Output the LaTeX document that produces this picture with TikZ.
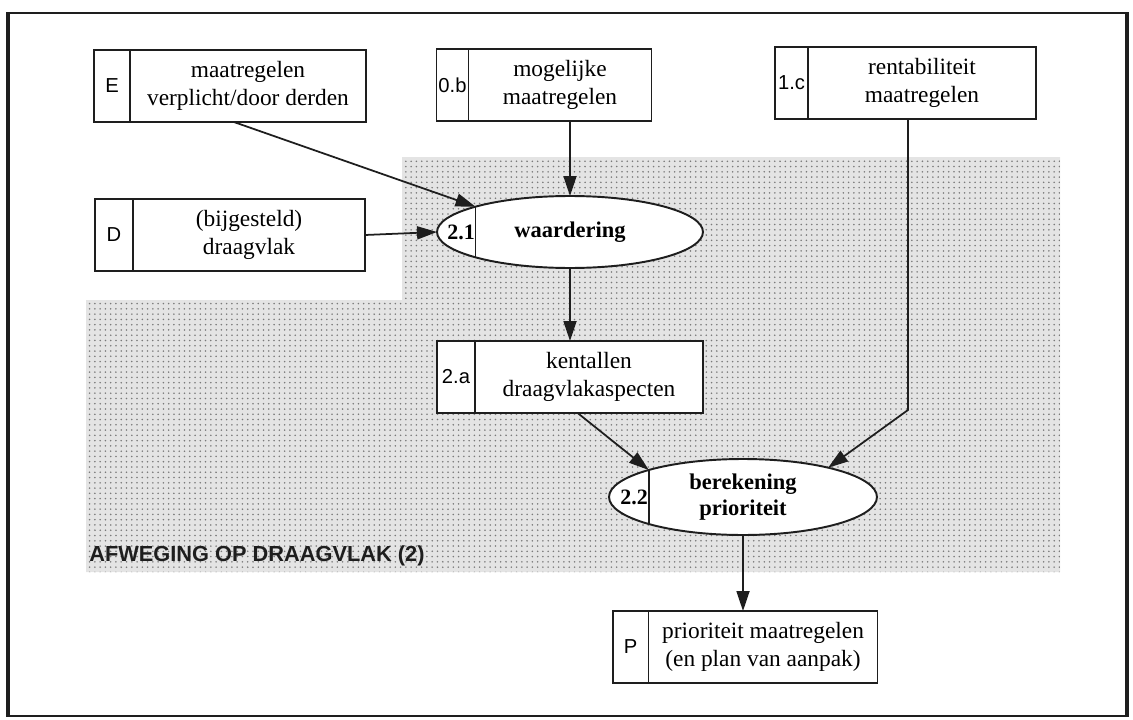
\documentclass[tikz,border=0pt]{standalone}
\usepackage{fontspec}
\setmainfont{Liberation Serif}
\setsansfont{Liberation Sans}
\usepackage{tikz}
\usetikzlibrary{arrows.meta,positioning,shapes.geometric,calc,patterns}
\definecolor{frameLine}{HTML}{1E1E1E}
\definecolor{shadeDot}{HTML}{7A7A7A}
\definecolor{shadeBack}{HTML}{E4E4E4}
\tikzset{
  storebox/.style={draw=frameLine, line width=1.1pt, fill=white, align=center, inner sep=2pt, outer sep=0pt, minimum height=1.44cm, font=\fontsize{13.3}{16}\selectfont},
  storeid/.style={draw=frameLine, line width=1.1pt, fill=white, inner sep=0pt, outer sep=0pt, minimum height=1.44cm, font=\sffamily\fontsize{11.5}{13}\selectfont},
  procbox/.style={ellipse, draw=frameLine, line width=1.1pt, fill=white, align=center, inner sep=0pt, outer sep=0pt, minimum width=5.32cm, minimum height=1.44cm, font=\bfseries\fontsize{12.8}{15}\selectfont},
  procid/.style={anchor=west, inner sep=0pt, font=\bfseries\fontsize{12.5}{14}\selectfont},
  procsep/.style={line width=1pt, draw=frameLine},
  flowarrow/.style={-{Triangle[length=4mm, width=2.6mm]}, line width=1pt, draw=frameLine},
  arealabel/.style={font=\sffamily\bfseries\fontsize{12.4}{14}\selectfont, text=frameLine, anchor=west, inner sep=0pt}
}
\begin{document}
\begin{tikzpicture}[x=0.02cm, y=-0.02cm]
  \useasboundingbox (0,0) rectangle (1133,720);
  % frame
  \draw[line width=1.2pt, draw=frameLine] (8,13) rectangle (1127,716);
  \draw[line width=2.6pt, draw=frameLine] (8,12) -- (8,717) (1127,12) -- (1127,717);

  % shaded area
  \fill[shadeBack] (402,157) -- (1060,157) -- (1060,572) -- (86,572) -- (86,300) -- (402,300) -- cycle;
  \fill[pattern=dots, pattern color=shadeDot] (402,157) -- (1060,157) -- (1060,572) -- (86,572) -- (86,300) -- (402,300) -- cycle;
  \node[arealabel] (area) at (89,556) {AFWEGING OP DRAAGVLAK (2)};

  % stores
  \node[storebox, minimum width=4.72cm] (maatE) at (248,86) {maatregelen\\verplicht/door derden};
  \node[storeid, minimum width=0.72cm, left=0pt of maatE] (idE) {E};
  \node[storebox, minimum width=3.66cm] (mogelijk) at (560,85) {mogelijke\\maatregelen};
  \node[storeid, minimum width=0.64cm, left=0pt of mogelijk] (idOb) {0.b};
  \node[storebox, minimum width=4.56cm] (rentab) at (922,83) {rentabiliteit\\maatregelen};
  \node[storeid, minimum width=0.66cm, left=0pt of rentab] (idIc) {1.c};
  \node[storebox, minimum width=4.64cm] (draagD) at (249,235) {(bijgesteld)\\draagvlak};
  \node[storeid, minimum width=0.76cm, left=0pt of draagD] (idD) {D};
  \node[storebox, minimum width=4.56cm] (kental) at (589,377) {kentallen\\draagvlakaspecten};
  \node[storeid, minimum width=0.76cm, left=0pt of kental] (idIIa) {2.a};
  \node[storebox, minimum width=4.58cm] (prioP) at (763,647) {prioriteit maatregelen\\(en plan van aanpak)};
  \node[storeid, minimum width=0.72cm, left=0pt of prioP] (idP) {P};

  % processes
  \node[procbox] (waard) at (570,232) {waardering};
  \draw[procsep] (waard.165) -- (waard.195);
  \node[procid] (idW) at ($(waard.west)+(10,0)$) {2.1};
  \node[procbox, minimum width=5.36cm, minimum height=1.52cm] (bereken) at (743,497) {berekening\\prioriteit};
  \draw[procsep] (bereken.164) -- (bereken.196);
  \node[procid] (idB) at ($(bereken.west)+(11,0)$) {2.2};

  % flows
  \draw[flowarrow] ($(maatE.south west)!0.44!(maatE.south east)$) -- (waard.165);
  \draw[flowarrow] (waard.north |- mogelijk.south) -- (waard.north);
  \draw[flowarrow] (draagD.east) -- (waard.west);
  \draw[flowarrow] (waard.south) -- (waard.south |- kental.north);
  \draw[flowarrow] ($(kental.south west)!0.45!(kental.south east)$) -- (bereken.164);
  \coordinate (knik) at (908,410);
  \draw[flowarrow] (knik |- rentab.south) -- (knik) -- (bereken.19);
  \draw[flowarrow] (bereken.south) -- (bereken.south |- prioP.north);
\end{tikzpicture}
\end{document}
